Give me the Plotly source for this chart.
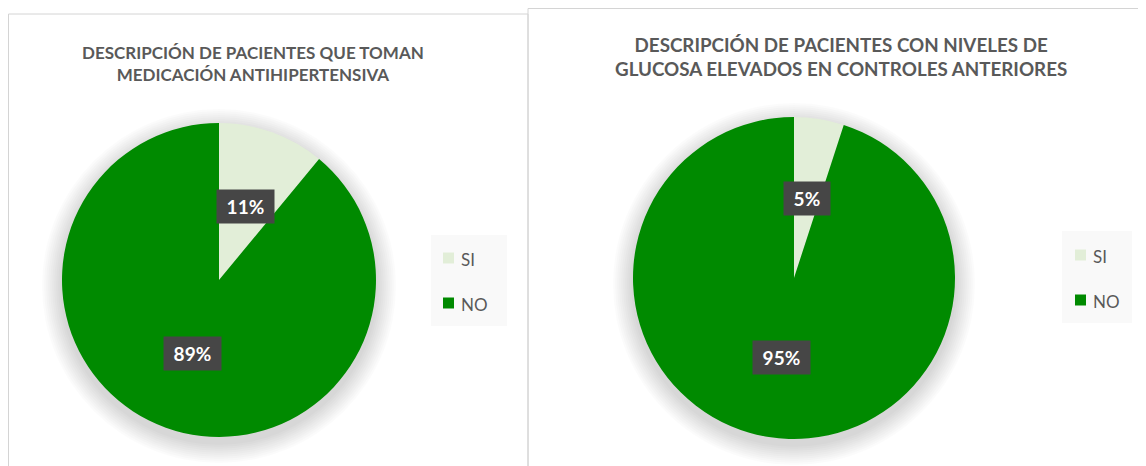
import math
import plotly.graph_objects as go

# ---------------- data ----------------
labels = ["SI", "NO"]
colors = ["#e2eed8", "#008a00"]
titles = [
    "DESCRIPCIÓN DE PACIENTES QUE TOMAN<br>MEDICACIÓN ANTIHIPERTENSIVA",
    "DESCRIPCIÓN DE PACIENTES CON NIVELES DE<br>GLUCOSA ELEVADOS EN CONTROLES ANTERIORES",
]
values_antihipertensiva = [11, 89]
values_glucosa = [5, 95]
series = [values_antihipertensiva, values_glucosa]

# ---------------- layout (page pixels) ----------------
OX, OY = 8, 8                      # default page body margin
W, H = 1146 - OX, 466 - OY
FONT = "Lato"
panels = [  # x0, y0, x1, y1
    (8.5, 14, 528, 480),
    (528, 8.5, 1160, 480),
]
pies = [  # cx, cy, r
    (219, 280, 157),
    (794, 278, 161),
]
title_pos = [(253, 63), (841, 57)]
title_size = [17, 18.8]
legend_boxes = [  # x0, y0, x1, y1, swatch x, first y, step
    (431, 235, 507, 326, 443, 258, 45),
    (1062, 231, 1132, 323, 1075, 255, 45),
]


def px(x):
    return (x - OX) / W


def py(y):
    return 1 - (y - OY) / H


fig = go.Figure()
shapes = []
annotations = []

for i, vals in enumerate(series):
    cx, cy, r = pies[i]
    fig.add_trace(go.Pie(
        labels=labels, values=vals, sort=False, direction="clockwise",
        rotation=0, marker=dict(colors=colors, line=dict(width=0)),
        textinfo="none", hoverinfo="label+percent", showlegend=False,
        domain=dict(x=[px(cx - r), px(cx + r)], y=[py(cy + r), py(cy - r)]),
    ))

    # panel border
    x0, y0, x1, y1 = panels[i]
    shapes.append(dict(type="rect", xref="paper", yref="paper",
                       x0=px(x0), x1=px(x1), y0=py(y1), y1=py(y0),
                       line=dict(color="#d4d4d4", width=1),
                       fillcolor="rgba(0,0,0,0)", layer="below"))

    # soft shadow around pie
    for k in range(2, 22, 2):
        rr = r + k
        oy = 6
        shapes.append(dict(type="circle", xref="paper", yref="paper",
                           x0=px(cx - rr), x1=px(cx + rr),
                           y0=py(cy + oy + rr), y1=py(cy + oy - rr),
                           line=dict(width=0),
                           fillcolor="rgba(0,0,0,0.014)", layer="below"))

    # title
    tx, ty = title_pos[i]
    annotations.append(dict(
        text=titles[i], x=px(tx), y=py(ty), xref="paper", yref="paper",
        showarrow=False, xanchor="center", yanchor="middle",
        font=dict(family=FONT, size=title_size[i], color="#595959", weight="bold"),
    ))

    # data labels (positioned from the slice mid-angles)
    total = sum(vals)
    cum = 0
    for v in vals:
        mid = (cum + v / 2) / total * 2 * math.pi
        cum += v
        lx = cx + 0.5 * r * math.sin(mid)
        ly = cy - 0.5 * r * math.cos(mid)
        pct = round(v / total * 100)
        annotations.append(dict(
            text=f"&nbsp;{pct}%&nbsp;", x=px(lx), y=py(ly),
            xref="paper", yref="paper", showarrow=False,
            xanchor="center", yanchor="middle",
            bgcolor="#464646", borderpad=5,
            font=dict(family=FONT, size=19, color="#ffffff", weight="bold"),
        ))

    # legend
    lx0, ly0, lx1, ly1, sx, sy, step = legend_boxes[i]
    shapes.append(dict(type="rect", xref="paper", yref="paper",
                       x0=px(lx0), x1=px(lx1), y0=py(ly1), y1=py(ly0),
                       line=dict(width=0), fillcolor="#f9f9f9", layer="below"))
    for j, lab in enumerate(labels):
        yy = sy + j * step
        shapes.append(dict(type="rect", xref="paper", yref="paper",
                           x0=px(sx), x1=px(sx + 11),
                           y0=py(yy + 5.5), y1=py(yy - 5.5),
                           line=dict(width=0), fillcolor=colors[j]))
        annotations.append(dict(
            text=lab, x=px(sx + 16), y=py(yy + 1.5), xref="paper", yref="paper",
            showarrow=False, xanchor="left", yanchor="middle",
            font=dict(family=FONT, size=17, color="#595959"),
        ))

fig.update_layout(
    width=W, height=H,
    margin=dict(l=0, r=0, t=0, b=0),
    paper_bgcolor="#ffffff", plot_bgcolor="#ffffff",
    shapes=shapes, annotations=annotations,
    showlegend=False,
)

fig.write_html("out.html")
